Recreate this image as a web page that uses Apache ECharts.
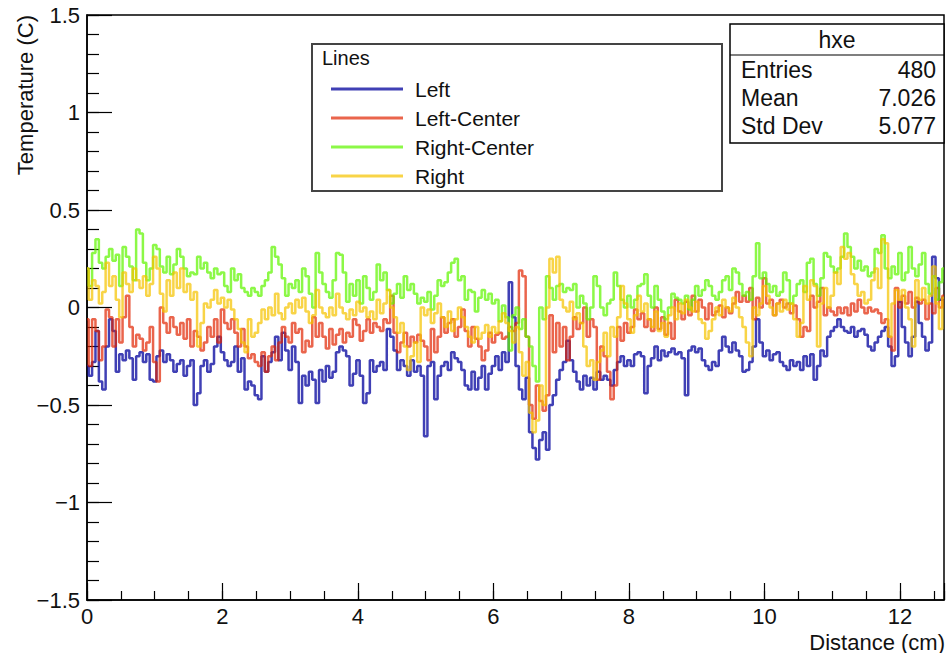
<!DOCTYPE html>
<html>
<head>
<meta charset="utf-8">
<script src="https://cdn.jsdelivr.net/npm/echarts@6/dist/echarts.min.js"></script>
<style>
html,body{margin:0;padding:0;background:#fff;}
#chart{width:947px;height:653px;}
</style>
</head>
<body>
<div id="chart"></div>
<script>
// ---- data ----
const binWidth = 0.05; // cm between samples
const seriesNames = ['Left', 'Left-Center', 'Right-Center', 'Right'];
const xTickLabels = [0, 2, 4, 6, 8, 10, 12];
const yTickLabels = [-1.5, -1, -0.5, 0, 0.5, 1, 1.5];

const leftValues = [
-0.30,-0.35,-0.28,-0.12,-0.38,-0.42,-0.20,-0.06,-0.12,-0.33,-0.24,-0.27,-0.22,-0.26,-0.37,-0.25,-0.23,-0.28,-0.24,-0.37,
-0.38,-0.25,-0.22,-0.28,-0.24,-0.27,-0.33,-0.29,-0.27,-0.35,-0.30,-0.27,-0.50,-0.44,-0.30,-0.27,-0.33,-0.29,-0.20,-0.15,
-0.23,-0.27,-0.30,-0.28,-0.20,-0.33,-0.26,-0.42,-0.38,-0.40,-0.45,-0.47,-0.25,-0.33,-0.28,-0.23,-0.15,-0.27,-0.13,-0.22,
-0.32,-0.20,-0.28,-0.49,-0.35,-0.40,-0.33,-0.37,-0.49,-0.32,-0.38,-0.30,-0.36,-0.33,-0.23,-0.20,-0.22,-0.25,-0.40,-0.34,
-0.27,-0.35,-0.49,-0.44,-0.27,-0.33,-0.30,-0.28,-0.32,-0.11,-0.15,-0.22,-0.32,-0.27,-0.30,-0.35,-0.27,-0.33,-0.30,-0.35,
-0.66,-0.30,-0.28,-0.47,-0.35,-0.30,-0.28,-0.32,-0.23,-0.26,-0.28,-0.32,-0.40,-0.42,-0.33,-0.42,-0.36,-0.30,-0.42,-0.34,
-0.30,-0.25,-0.32,-0.23,-0.28,0.13,-0.05,-0.30,-0.42,-0.47,-0.36,-0.64,-0.72,-0.78,-0.68,-0.64,-0.73,-0.50,-0.45,-0.37,
-0.32,-0.28,-0.17,-0.27,-0.33,-0.38,-0.42,-0.35,-0.40,-0.36,-0.42,-0.33,-0.37,-0.35,-0.37,-0.40,-0.32,-0.28,-0.25,-0.30,
-0.27,-0.30,-0.24,-0.23,-0.25,-0.44,-0.30,-0.26,-0.20,-0.27,-0.22,-0.25,-0.23,-0.21,-0.24,-0.23,-0.26,-0.45,-0.22,-0.20,
-0.23,-0.21,-0.27,-0.30,-0.32,-0.28,-0.30,-0.22,-0.15,-0.20,-0.23,-0.18,-0.22,-0.25,-0.33,-0.32,-0.28,-0.20,-0.06,-0.18,
-0.25,-0.22,-0.27,-0.24,-0.23,-0.28,-0.30,-0.32,-0.27,-0.30,-0.28,-0.32,-0.25,-0.30,-0.24,-0.37,-0.30,-0.22,-0.25,-0.15,
-0.12,-0.10,-0.06,-0.10,-0.12,-0.13,-0.10,-0.15,-0.12,-0.11,-0.14,-0.20,-0.22,-0.18,-0.15,-0.12,-0.10,-0.20,-0.30,-0.25,
0.03,-0.10,-0.18,-0.25,-0.15,0.03,-0.08,-0.15,-0.22,-0.18,0.26,0.15,0.04,0.05
];

const leftCenterValues = [
-0.06,-0.30,-0.06,-0.12,-0.27,-0.20,-0.01,-0.05,-0.20,-0.06,-0.18,-0.05,0.06,-0.10,-0.20,-0.14,-0.16,-0.22,-0.18,-0.10,
-0.28,-0.38,0.00,-0.08,-0.13,-0.05,-0.10,-0.14,-0.08,-0.16,-0.06,-0.20,-0.12,-0.15,-0.22,-0.18,-0.10,-0.15,-0.06,-0.18,
-0.01,-0.08,-0.11,-0.06,-0.13,-0.20,-0.11,-0.20,-0.26,-0.24,-0.28,-0.30,-0.23,-0.33,-0.25,-0.20,-0.27,-0.18,-0.10,-0.15,
-0.18,-0.08,-0.13,-0.11,-0.23,-0.17,-0.20,-0.05,-0.15,-0.08,-0.15,-0.21,-0.11,-0.19,-0.14,-0.11,-0.18,-0.13,-0.15,-0.06,
-0.09,-0.17,-0.12,-0.06,-0.13,-0.08,-0.10,-0.12,-0.06,-0.08,0.06,-0.13,-0.23,-0.18,-0.13,-0.20,-0.15,-0.18,-0.14,-0.17,
-0.20,-0.27,-0.11,-0.23,-0.15,-0.05,-0.13,-0.08,-0.06,-0.15,-0.10,-0.01,-0.12,-0.20,-0.10,-0.16,-0.20,-0.27,-0.22,-0.13,
-0.18,-0.14,-0.13,-0.16,-0.15,-0.10,-0.12,-0.08,0.19,0.16,-0.15,-0.50,-0.57,-0.40,-0.48,-0.53,-0.45,-0.04,-0.23,-0.08,
-0.20,-0.10,-0.27,-0.15,-0.05,-0.11,-0.08,0.00,-0.15,-0.06,-0.10,-0.37,-0.20,-0.25,-0.33,-0.47,-0.40,-0.10,-0.17,-0.08,
-0.13,-0.10,-0.01,-0.06,-0.03,-0.10,-0.06,-0.12,0.00,-0.11,-0.05,-0.14,-0.08,-0.16,0.04,-0.02,-0.06,0.03,-0.04,0.06,
-0.02,0.04,0.00,-0.06,0.02,-0.04,-0.02,0.01,-0.05,0.00,-0.03,0.02,0.08,0.03,0.06,0.03,0.10,-0.06,0.05,0.00,
0.15,0.02,0.04,-0.04,0.02,0.04,0.00,0.02,-0.03,0.01,-0.06,-0.15,-0.10,-0.12,0.06,0.00,0.03,0.10,-0.04,0.00,
-0.02,-0.04,0.00,-0.03,0.00,-0.04,0.02,-0.02,0.04,0.00,-0.03,0.00,-0.02,-0.01,-0.03,-0.08,-0.06,-0.15,-0.22,0.10,
0.00,0.06,0.02,0.08,0.00,0.05,0.02,0.04,-0.06,0.02,-0.03,0.10,0.00,0.06
];

const rightCenterValues = [
0.20,0.11,0.28,0.35,0.23,0.20,0.26,0.30,0.24,0.27,0.11,0.31,0.26,0.21,0.14,0.40,0.38,0.23,0.14,0.20,
0.32,0.30,0.21,0.18,0.26,0.17,0.22,0.30,0.26,0.20,0.16,0.18,0.17,0.26,0.20,0.23,0.18,0.15,0.20,0.17,
0.18,0.11,0.08,0.20,0.14,0.17,0.10,0.08,0.06,0.10,0.08,0.06,0.11,0.14,0.18,0.31,0.26,0.22,0.15,0.06,
0.12,0.10,0.14,0.08,0.20,0.16,0.07,0.00,0.28,0.18,0.12,0.08,0.05,0.14,0.28,0.27,0.18,0.03,0.12,0.06,
0.14,0.02,0.16,0.10,0.04,0.08,0.22,0.14,0.18,0.09,0.02,0.07,0.12,0.05,0.16,0.09,0.12,0.07,0.02,0.05,
0.03,0.08,-0.01,0.06,0.14,0.11,0.13,0.18,0.23,0.25,0.14,0.16,0.04,0.09,0.08,-0.02,0.05,0.09,0.04,0.07,
0.02,0.04,-0.07,0.01,-0.05,-0.22,-0.04,0.00,-0.11,-0.06,-0.15,-0.20,-0.30,-0.38,0.00,-0.06,0.16,0.10,0.04,0.11,
0.12,0.08,0.10,0.09,0.12,0.00,0.06,0.02,-0.06,0.00,0.16,0.11,0.00,-0.04,0.02,0.04,0.18,0.11,0.04,0.00,
0.06,0.00,0.04,0.11,0.12,0.17,0.06,0.00,0.11,0.04,-0.02,-0.06,0.00,0.07,0.05,0.04,0.02,0.06,-0.01,0.04,
0.11,0.06,0.09,0.14,0.11,0.06,0.04,0.08,0.14,0.16,0.09,0.20,0.18,0.12,0.06,0.08,0.04,0.16,0.33,0.15,
0.18,0.12,0.08,0.11,0.06,0.08,0.18,0.14,0.02,0.06,0.12,0.14,0.08,0.23,0.25,0.12,0.06,0.15,0.28,0.26,
0.21,0.18,0.20,0.26,0.38,0.31,0.26,0.20,0.24,0.19,0.21,0.16,0.18,0.30,0.28,0.37,0.20,0.15,0.21,0.17,
0.28,0.14,0.18,0.31,0.20,0.16,0.22,0.28,0.12,0.07,0.16,0.04,0.13,0.20
];

const rightValues = [
0.20,0.04,0.14,0.11,0.02,0.08,0.23,0.11,0.16,0.04,-0.05,0.18,0.12,0.08,0.20,0.14,0.10,0.16,0.06,0.12,
0.26,0.20,0.07,-0.02,0.14,0.06,0.18,0.10,0.20,0.08,0.12,0.04,0.08,-0.20,-0.08,0.02,0.00,0.04,0.09,0.02,
0.05,0.00,0.04,-0.01,-0.06,-0.11,-0.18,-0.23,-0.06,-0.15,-0.13,-0.08,-0.01,-0.06,0.00,-0.04,0.07,-0.03,-0.06,0.00,
0.02,-0.03,0.04,0.00,0.05,-0.02,-0.08,-0.04,0.09,0.00,-0.03,-0.05,0.00,-0.04,0.07,0.00,-0.03,-0.06,-0.01,-0.04,
0.03,-0.02,0.00,-0.05,-0.02,-0.06,0.04,-0.03,0.02,0.09,0.00,-0.05,-0.13,-0.08,-0.20,-0.32,-0.25,-0.18,-0.28,0.00,
-0.04,-0.01,-0.08,-0.03,0.02,-0.05,-0.10,-0.02,-0.12,-0.06,0.00,-0.05,-0.10,-0.15,-0.18,-0.10,-0.16,-0.13,-0.09,-0.15,
-0.10,-0.13,-0.07,-0.03,-0.08,-0.12,-0.18,-0.10,-0.23,-0.35,-0.28,-0.54,-0.64,-0.58,-0.40,-0.50,0.00,0.25,0.18,0.26,
0.04,0.00,-0.02,0.03,-0.06,-0.03,-0.08,-0.20,-0.30,-0.27,-0.37,-0.28,-0.22,-0.13,-0.25,-0.10,-0.15,-0.05,0.11,0.02,
-0.06,-0.13,-0.04,0.06,-0.02,0.02,-0.06,-0.10,-0.02,-0.12,-0.08,-0.15,-0.04,0.00,-0.06,0.02,-0.03,0.04,0.00,-0.02,
0.03,-0.06,-0.08,-0.16,-0.12,-0.06,0.00,-0.04,0.04,0.00,-0.02,0.05,0.00,-0.05,-0.10,-0.18,-0.25,0.00,-0.04,0.02,
0.11,0.06,0.00,-0.04,0.02,-0.02,0.04,-0.01,0.02,-0.06,-0.15,-0.08,0.11,0.04,0.14,0.11,-0.20,0.02,0.10,0.00,
0.06,0.18,0.12,0.31,0.25,0.28,0.17,0.12,0.06,0.08,0.02,0.04,0.14,0.20,0.10,0.35,0.33,-0.15,0.02,0.09,
0.04,0.09,0.00,-0.06,-0.20,0.14,0.04,0.10,0.02,0.06,0.21,0.02,-0.11,0.05
];

const statsTitle = 'hxe';
const statsLabels = ['Entries', 'Mean', 'Std Dev'];
const statsValues = ['480', '7.026', '5.077'];

// ---- styling ----
const FONT = '"Liberation Sans", Arial, Helvetica, sans-serif';
const seriesColors = ['rgba(10,10,160,0.78)', 'rgba(225,35,0,0.7)', 'rgba(95,245,0,0.72)', 'rgba(245,195,0,0.72)'];
const X_MAX = 12.65;

const allValues = [leftValues, leftCenterValues, rightCenterValues, rightValues];
const toPairs = vals => vals.map((v, i) => [Math.round(i * binWidth * 100) / 100, v]);
const fmtMinus = v => String(v).replace('-', '\u2212');

const chart = echarts.init(document.getElementById('chart'), null, {renderer: 'svg'});

const axisLabelStyle = {fontFamily: FONT, fontSize: 22, color: '#111'};

const option = {
  animation: false,
  backgroundColor: '#fff',
  grid: {left: 87, right: 3, top: 15, bottom: 53, show: true, borderColor: '#000', borderWidth: 1.5, backgroundColor: 'transparent'},
  legend: {
    data: seriesNames.map(n => ({name: n, icon: 'rect'})),
    orient: 'vertical',
    left: 326, top: 73,
    itemWidth: 72, itemHeight: 3, itemGap: 7,
    selectedMode: false,
    textStyle: {fontFamily: FONT, fontSize: 21, color: '#111', lineHeight: 22, padding: [0, 0, 0, 7]}
  },
  xAxis: [
    {
      type: 'value', min: 0, max: X_MAX, interval: 2, position: 'bottom',
      axisLine: {show: true, onZero: false, lineStyle: {color: '#000', width: 1.5}},
      axisTick: {show: true, inside: true, length: 17, lineStyle: {color: '#000', width: 1.2}},
      splitLine: {show: false},
      axisLabel: Object.assign({margin: 5, formatter: v => (xTickLabels.indexOf(Math.round(v * 1000) / 1000) >= 0 ? fmtMinus(v) : '')}, axisLabelStyle)
    },
    {
      type: 'value', min: 0, max: X_MAX, interval: 0.5, position: 'bottom',
      axisLine: {show: false, onZero: false},
      axisTick: {show: true, inside: true, length: 9, lineStyle: {color: '#000', width: 1.2}},
      splitLine: {show: false}, axisLabel: {show: false}
    }
  ],
  yAxis: [
    {
      type: 'value', min: -1.5, max: 1.5, interval: 0.5, position: 'left',
      axisLine: {show: true, onZero: false, lineStyle: {color: '#000', width: 1.5}},
      axisTick: {show: true, inside: true, length: 25, lineStyle: {color: '#000', width: 1.2}},
      splitLine: {show: false},
      axisLabel: Object.assign({margin: 7, formatter: v => (yTickLabels.indexOf(Math.round(v * 1000) / 1000) >= 0 ? fmtMinus(v) : '')}, axisLabelStyle)
    },
    {
      type: 'value', min: -1.5, max: 1.5, interval: 0.1, position: 'left',
      axisLine: {show: false, onZero: false},
      axisTick: {show: true, inside: true, length: 12, lineStyle: {color: '#000', width: 1.2}},
      splitLine: {show: false}, axisLabel: {show: false}
    }
  ],
  series: seriesNames.map((name, k) => ({
    name: name,
    type: 'line',
    xAxisIndex: 0, yAxisIndex: 0,
    data: toPairs(allValues[k]),
    step: 'middle',
    showSymbol: false,
    symbol: 'none',
    color: seriesColors[k],
    lineStyle: {color: seriesColors[k], width: 2.5},
    itemStyle: {color: seriesColors[k]},
    emphasis: {disabled: true},
    z: 2 + k
  })),
  graphic: [
    // legend frame and header
    {type: 'rect', shape: {x: 312, y: 44, width: 410, height: 147}, style: {fill: 'transparent', stroke: '#444', lineWidth: 2}, z: 10},
    {type: 'text', x: 322, y: 58, style: {text: 'Lines', font: '20px ' + FONT, fill: '#111', textAlign: 'left', textVerticalAlign: 'middle'}, z: 11},
    // stats box
    {type: 'rect', shape: {x: 730, y: 24, width: 214, height: 119}, style: {fill: '#fff', stroke: '#000', lineWidth: 1.5}, z: 10},
    {type: 'line', shape: {x1: 730, y1: 55, x2: 944, y2: 55}, style: {stroke: '#000', lineWidth: 1.2}, z: 11},
    {type: 'text', x: 837, y: 40, style: {text: statsTitle, font: '23px ' + FONT, fill: '#111', textAlign: 'center', textVerticalAlign: 'middle'}, z: 11},
    ...statsLabels.map((t, i) => ({type: 'text', x: 741, y: 70 + i * 28, style: {text: t, font: '23px ' + FONT, fill: '#111', textAlign: 'left', textVerticalAlign: 'middle'}, z: 11})),
    ...statsValues.map((t, i) => ({type: 'text', x: 936, y: 70 + i * 28, style: {text: t, font: '23px ' + FONT, fill: '#111', textAlign: 'right', textVerticalAlign: 'middle'}, z: 11})),
    // axis titles
    {type: 'text', x: 25, y: 15, rotation: Math.PI / 2, style: {text: 'Temperature (C)', font: '22px ' + FONT, fill: '#111', textAlign: 'right', textVerticalAlign: 'middle'}, z: 11},
    {type: 'text', x: 945, y: 642, style: {text: 'Distance (cm)', font: '22px ' + FONT, fill: '#111', textAlign: 'right', textVerticalAlign: 'middle'}, z: 11}
  ]
};

chart.setOption(option);
</script>
</body>
</html>
